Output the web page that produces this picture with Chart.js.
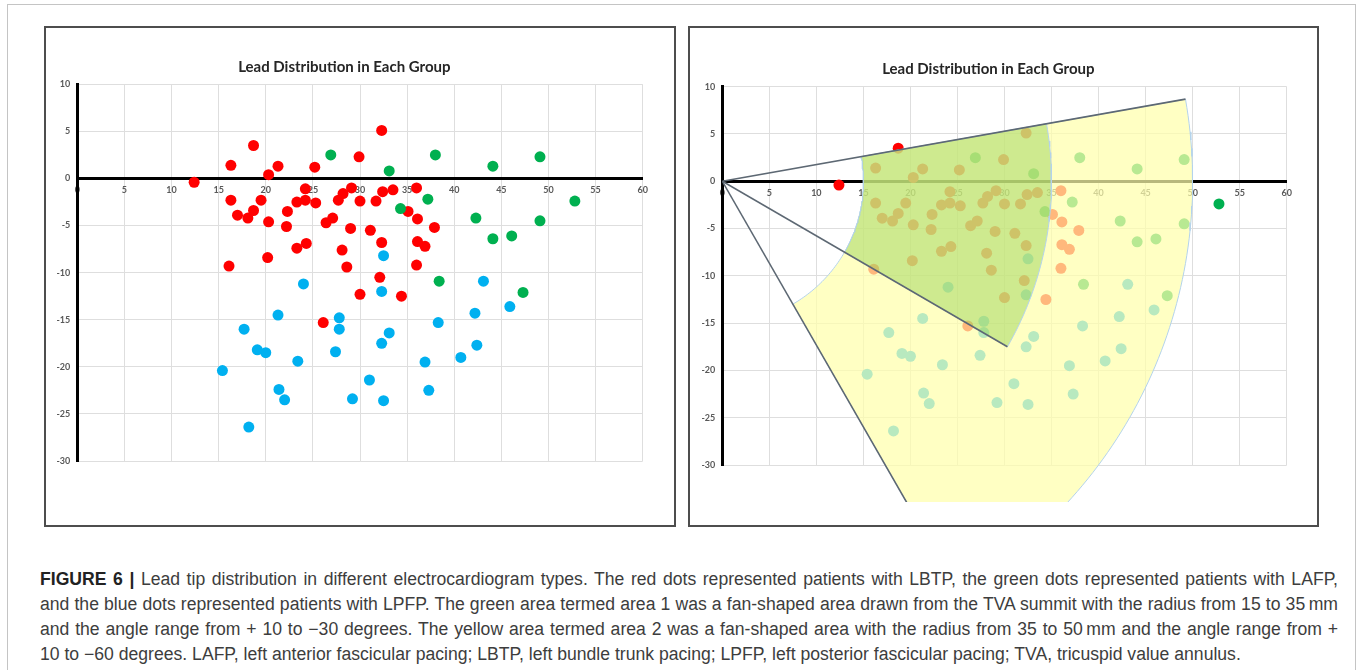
<!DOCTYPE html>
<html>
<head>
<meta charset="utf-8">
<script src="https://cdn.jsdelivr.net/npm/chart.js@4.4.0/dist/chart.umd.min.js"></script>
<style>
  body { margin: 0; background: #fff; width: 1358px; height: 670px; position: relative; overflow: hidden; }
  #frame { position: absolute; left: 7px; top: 4px; width: 1347px; height: 700px; border: 1px solid #c4c4c4; }
  .panel { position: absolute; top: 26px; height: 497px; border: 2px solid #4d4d4d; background: #fff; }
  #p1 { left: 44px; width: 628px; }
  #p2 { left: 688px; width: 627px; }
  .panel canvas { position: absolute; left: 0; top: 0; }
  #caption { position: absolute; left: 40px; top: 567px; width: 1298px; font-family: "Liberation Sans", Arial, sans-serif;
             font-size: 17.6px; line-height: 25px; color: #3d3d3d; }
  #caption div { white-space: nowrap; height: 25px; }
  #caption span { display: inline-block; }
  #caption b { color: #222; }
</style>
</head>
<body>
<div id="frame"></div>
<div class="panel" id="p1"><canvas id="c1" width="628" height="497"></canvas></div>
<div class="panel" id="p2"><canvas id="c2" width="627" height="497"></canvas></div>
<div id="caption">
<div class="j"><span><b>FIGURE 6 |</b> Lead tip distribution in different electrocardiogram types. The red dots represented patients with LBTP, the green dots represented patients with LAFP,</span></div>
<div class="j"><span>and the blue dots represented patients with LPFP. The green area termed area 1 was a fan-shaped area drawn from the TVA summit with the radius from 15 to 35&#8201;mm</span></div>
<div class="j"><span>and the angle range from + 10 to &minus;30 degrees. The yellow area termed area 2 was a fan-shaped area with the radius from 35 to 50&#8201;mm and the angle range from +</span></div>
<div><span>10 to &minus;60 degrees. LAFP, left anterior fascicular pacing; LBTP, left bundle trunk pacing; LPFP, left posterior fascicular pacing; TVA, tricuspid value annulus.</span></div>
</div>
<script>
// LBTP (red)
var lbtpX = [12.4, 18.7, 16.3, 20.3, 21.3, 25.2, 29.9, 32.3, 16.3, 17.0, 18.1, 18.7, 19.5, 20.3, 22.3, 22.2, 23.3,
  24.2, 24.2, 25.3, 23.3, 24.3, 20.2, 16.1, 26.4, 27.1, 27.7, 28.2, 29.1, 29.0, 28.1, 28.6, 30.0, 31.7, 32.4,
  33.5, 36.0, 35.1, 36.1, 31.1, 37.9, 32.3, 36.1, 36.9, 36.0, 32.1, 30.0, 34.4, 26.1];
var lbtpY = [-0.4, 3.5, 1.4, 0.4, 1.3, 1.2, 2.3, 5.1, -2.3, -3.9, -4.2, -3.4, -2.3, -4.6, -3.5, -5.1, -2.5,
  -1.1, -2.3, -2.6, -7.4, -6.9, -8.4, -9.3, -4.7, -4.2, -2.3, -1.6, -1.0, -5.3, -7.6, -9.4, -2.4, -2.4, -1.4,
  -1.2, -1.0, -3.5, -4.3, -5.5, -5.2, -6.8, -6.7, -7.2, -9.2, -10.5, -12.3, -12.5, -15.3];

// LAFP (green)
var lafpX = [26.9, 38.0, 33.1, 44.1, 49.1, 37.2, 34.3, 42.3, 52.8, 49.1, 44.1, 46.1, 38.4, 47.3];
var lafpY = [2.5, 2.5, 0.8, 1.3, 2.3, -2.2, -3.2, -4.2, -2.4, -4.5, -6.4, -6.1, -10.9, -12.1];

// LPFP (blue)
var lpfpX = [32.5, 24.0, 21.3, 27.8, 27.8, 17.7, 19.1, 20.0, 23.4, 27.4, 15.4, 21.4, 22.0, 29.2, 18.2,
  43.1, 32.3, 45.9, 42.2, 38.3, 33.1, 32.3, 42.4, 40.7, 36.9, 31.0, 32.5, 37.3];
var lpfpY = [-8.2, -11.2, -14.5, -14.8, -16.0, -16.0, -18.2, -18.5, -19.4, -18.4, -20.4, -22.4, -23.5, -23.4, -26.4,
  -10.9, -12.0, -13.6, -14.3, -15.3, -16.4, -17.5, -17.7, -19.0, -19.5, -21.4, -23.6, -22.5];

var xTicks = [0, 5, 10, 15, 20, 25, 30, 35, 40, 45, 50, 55, 60];
var yTicks = [10, 5, 0, -5, -10, -15, -20, -25, -30];

// fan areas: radius (mm) and angle (degrees)
var area1 = { r0: 15, r1: 35, a0: 10, a1: -30 };
var area2 = { r0: 15, r1: 50, a0: 10, a1: -60 };
var rays = [[50, 10], [35, -30], [50, -60]];

var title = "Lead Distribution in Each Group";

// stretch the caption lines to the full width, like the journal layout
document.querySelectorAll("#caption .j").forEach(function (el) {
  var span = el.firstChild;
  var gaps = (span.textContent.match(/ /g) || []).length;
  var extra = 1298 - span.getBoundingClientRect().width;
  span.style.wordSpacing = (extra / gaps) + "px";
});

function pts(xs, ys) {
  return xs.map(function (x, i) { return { x: x, y: ys[i] }; });
}

function polar(r, deg) {
  var a = deg * Math.PI / 180;
  return { x: r * Math.cos(a), y: r * Math.sin(a) };
}

function fan(f) {
  var out = [];
  for (var a = f.a0; a >= f.a1; a--) out.push(polar(f.r1, a));
  for (var b = f.a1; b <= f.a0; b++) out.push(polar(f.r0, b));
  out.push(polar(f.r1, f.a0));
  return out;
}

function dots(label, xs, ys, color, order) {
  return {
    label: label, data: pts(xs, ys), backgroundColor: color, borderWidth: 0,
    pointRadius: 5.5, pointHoverRadius: 5.5, order: order
  };
}

var overflow = { left: 0, top: 0, right: 0, bottom: 37 };

// filler clips at the chart area, so the fans get filled here (below the -30 line too)
var fanFill = {
  id: "fanFill",
  beforeDatasetDraw: function (chart, args) {
    var ds = chart.data.datasets[args.index];
    if (!ds.fanColor) return;
    var ctx = chart.ctx, a = chart.chartArea, els = args.meta.data;
    ctx.save();
    ctx.beginPath();
    ctx.rect(a.left, a.top, a.right - a.left, a.bottom - a.top + overflow.bottom);
    ctx.clip();
    ctx.beginPath();
    els.forEach(function (p, i) { if (i) ctx.lineTo(p.x, p.y); else ctx.moveTo(p.x, p.y); });
    ctx.closePath();
    ctx.fillStyle = ds.fanColor;
    ctx.fill();
    ctx.restore();
  }
};

function makeChart(id, lay, withFans) {
  var datasets = [
    dots("LBTP", lbtpX, lbtpY, "#ff0000", 6),
    dots("LAFP", lafpX, lafpY, "#00b050", 5),
    dots("LPFP", lpfpX, lpfpY, "#00b0f0", 4)
  ];
  if (withFans) {
    datasets.push({
      label: "area 2", data: fan(area2), showLine: true, fill: false, tension: 0,
      fanColor: "rgba(255,255,172,0.72)", borderColor: "#b4d3ec", borderWidth: 1,
      pointRadius: 0, clip: overflow, order: 3
    });
    datasets.push({
      label: "area 1", data: fan(area1), showLine: true, fill: false, tension: 0,
      fanColor: "rgba(146,208,80,0.45)", borderColor: "#b4d3ec", borderWidth: 1,
      pointRadius: 0, clip: overflow, order: 2
    });
    rays.forEach(function (r) {
      datasets.push({
        label: "edge", data: [{ x: 0, y: 0 }, polar(r[0], r[1])], showLine: true, fill: false,
        borderColor: "#5d6873", borderWidth: 1.6, pointRadius: 0, clip: overflow, order: 1
      });
    });
  }

  var tickFont = { family: "Lato", size: 9, weight: "bold" };
  return new Chart(document.getElementById(id), {
    type: "scatter",
    data: { datasets: datasets },
    plugins: [fanFill],
    options: {
      responsive: false,
      animation: false,
      devicePixelRatio: 1,
      layout: { padding: { left: 0, top: 0, right: lay.right, bottom: lay.bottom } },
      plugins: {
        legend: { display: false },
        tooltip: { enabled: false },
        title: {
          display: true, text: title, color: "#262626",
          font: { family: "Lato", size: 15, weight: "bold", lineHeight: 1.2 },
          padding: { top: lay.titleTop, bottom: lay.titleBottom }
        }
      },
      scales: {
        x: {
          type: "linear", min: 0, max: 60, position: { y: 0 },
          afterBuildTicks: function (s) { s.ticks = xTicks.map(function (v) { return { value: v }; }); },
          grid: { color: "#dedede", lineWidth: 1, drawTicks: false },
          border: { color: "#000", width: 3 },
          ticks: { color: "#595959", font: tickFont, padding: 6, maxRotation: 0, autoSkip: false }
        },
        y: {
          type: "linear", min: -30, max: 10, position: "left",
          afterBuildTicks: function (s) { s.ticks = yTicks.map(function (v) { return { value: v }; }); },
          afterFit: function (s) { s.width = lay.yw; },
          grid: { color: "#dedede", lineWidth: 1, drawTicks: false },
          border: { color: "#000", width: 3 },
          ticks: { color: "#595959", font: tickFont, padding: 7, autoSkip: false }
        }
      }
    }
  });
}

makeChart("c1", { yw: 31.3, right: 31.3, bottom: 64, titleTop: 30, titleBottom: 8.3 }, false);
makeChart("c2", { yw: 32.3, right: 30.3, bottom: 60, titleTop: 32, titleBottom: 8.7 }, true);
</script>
</body>
</html>
